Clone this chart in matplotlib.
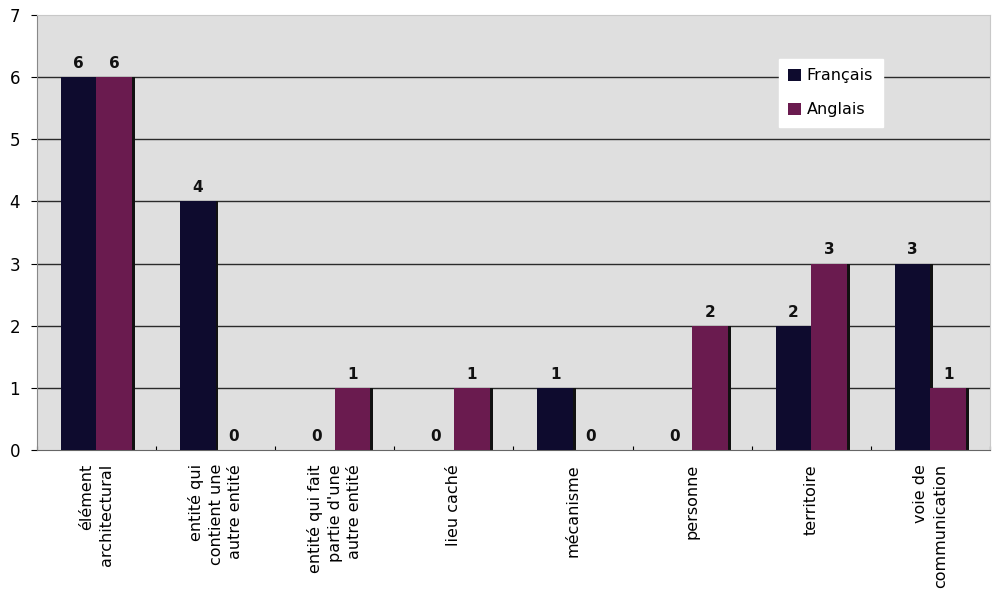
import matplotlib
matplotlib.use("Agg")
import matplotlib.pyplot as plt
import numpy as np

categories = [
    "élément\narchitectural",
    "entité qui\ncontient une\nautre entité",
    "entité qui fait\npartie d'une\nautre entité",
    "lieu caché",
    "mécanisme",
    "personne",
    "territoire",
    "voie de\ncommunication",
]
francais = [6, 4, 0, 0, 1, 0, 2, 3]
anglais = [6, 0, 1, 1, 0, 2, 3, 1]
y_ticks = [0, 1, 2, 3, 4, 5, 6, 7]

col_fr = "#0e0b2e"
col_en = "#6a1b4f"

fig = plt.figure(figsize=(9.94, 5.97), dpi=100)
ax = fig.add_axes([0.037, 0.246, 0.959, 0.729])

x = np.arange(len(categories))
w = 0.30

ax.set_facecolor("#dfdfdf")
for yv in y_ticks[1:-1]:
    ax.axhline(yv, color="#2a2a2a", lw=1.0, zorder=1)

# drop shadows behind the bars
for xs, vals in ((x - w / 2, francais), (x + w / 2, anglais)):
    ax.bar(xs + 0.025, vals, w, color="#111111", zorder=2, align="center")

ax.bar(x - w / 2, francais, w, color=col_fr, label="Français", zorder=3)
ax.bar(x + w / 2, anglais, w, color=col_en, label="Anglais", zorder=3)

for xs, vals in ((x - w / 2, francais), (x + w / 2, anglais)):
    for xi, v in zip(xs, vals):
        ax.text(xi, v + 0.1, str(v), ha="center", va="bottom",
                fontsize=11, fontweight="bold", color="#111111", zorder=4)

ax.set_xlim(-0.5, len(categories) - 0.5)
ax.set_ylim(0, 7)
ax.set_yticks(y_ticks)
ax.set_yticklabels([str(v) for v in y_ticks], fontsize=12)
ax.set_xticks(x)
ax.set_xticklabels(categories, rotation=90, fontsize=11.5, va="top", ha="center",
                   multialignment="right", linespacing=1.4)
ax.tick_params(axis="x", length=0, pad=10)
ax.tick_params(axis="y", length=4, width=0.8, pad=8)
ax.set_xticks(np.arange(len(categories) + 1) - 0.5, minor=True)
ax.tick_params(axis="x", which="minor", length=3, width=0.8, direction="in")

for side in ("top", "right"):
    ax.spines[side].set_color("#c8c8c8")
ax.spines["left"].set_color("#888888")
ax.spines["bottom"].set_color("#666666")

leg = ax.legend(loc="upper left", bbox_to_anchor=(0.77, 0.918), frameon=True,
                fancybox=False, fontsize=11.5, handlelength=0.8, handleheight=0.8,
                handletextpad=0.35, labelspacing=1.2, borderpad=0.6)
leg.get_frame().set_facecolor("white")
leg.get_frame().set_edgecolor("white")
leg.get_frame().set_alpha(1)

fig.savefig("out.png", dpi=100, facecolor="white")
